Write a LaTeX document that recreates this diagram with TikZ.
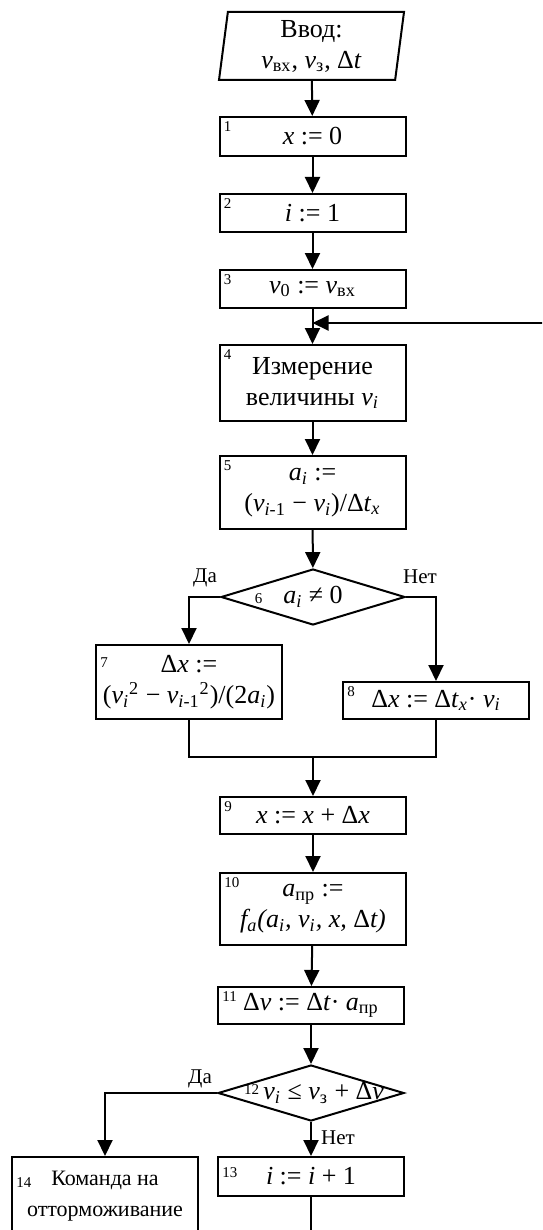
\documentclass[tikz,border=0pt]{standalone}
\usepackage{fontspec}
\setmainfont{Liberation Serif}
\usetikzlibrary{shapes.geometric,arrows.meta}
\newcommand{\numsize}{\fontsize{7.5}{8}\selectfont}

\begin{document}
\begin{tikzpicture}[x=0.5pt, y=-0.5pt,
	every node/.style={font=\fontsize{13}{15.5}\selectfont},
	block/.style={rectangle, draw, line width=1pt, minimum width=93pt, minimum height=19pt, inner sep=1pt, align=center},
	io/.style={trapezium, trapezium left angle=81, trapezium right angle=99, trapezium stretches body, draw, line width=1pt, minimum width=92.5pt, minimum height=34pt, inner sep=1pt, align=center},
	decision/.style={diamond, draw, line width=1pt, minimum width=92pt, minimum height=28pt, inner sep=0pt},
	num/.style={font=\numsize, anchor=north west, inner sep=2.5pt},
	answer/.style={font=\fontsize{10.5}{12}\selectfont},
	flow/.style={line width=1pt, -{Triangle[length=8pt, width=7.5pt]}},
	link/.style={line width=1pt}
	]
	
	\useasboundingbox (0,0) rectangle (542,1230);
	\clip (0,0) rectangle (542,1230);
	
	\node[io] (in) at (311.5,46) {Ввод:\\\textit{v}\textsubscript{вх}, \textit{v}\textsubscript{з}, Δ\textit{t}};
	\node[block, minimum height=19.5pt, label={[num]north west:1}] (b1) at (312.5,136.5) {\textit{x} := 0};
	\node[block, label={[num]north west:2}] (b2) at (312.5,213) {\textit{i} := 1};
	\node[block, label={[num]north west:3}] (b3) at (312.5,289) {\textit{v}\textsubscript{0} := \textit{v}\textsubscript{вх}};
	\node[block, minimum height=38pt, label={[num]north west:4}] (b4) at (312.5,383) {Измерение\\величины \textit{v}\textsubscript{\textit{i}}};
	\node[block, minimum height=36.5pt, label={[num]north west:5}] (b5) at (312.5,492.5) {\textit{a}\textsubscript{\textit{i}} :=\\(\textit{v}\textsubscript{\textit{i}-1} − \textit{v}\textsubscript{\textit{i}})/Δ\textit{t}\textsubscript{\textit{x}}};
	\node[decision, label={[anchor=center]center:{\makebox[0pt][r]{\numsize 6\hspace{10.5pt}}\textit{a}\textsubscript{\textit{i}} ≠ 0}}] (d6) at (313,597) {};
	\node[block, minimum height=37pt, label={[num, yshift=-4pt]north west:7}] (b7) at (189,682) {Δ\textit{x} :=\\(\textit{v}\textsubscript{\textit{i}}\textsuperscript{2} − \textit{v}\textsubscript{\textit{i}-1}\textsuperscript{2})/(2\textit{a}\textsubscript{\textit{i}})};
	\node[block, minimum height=18.5pt, label={[num]north west:8}] (b8) at (436,700.5) {Δ\textit{x} := Δ\textit{t}\textsubscript{\textit{x}}· \textit{v}\textsubscript{\textit{i}}};
	\node[block, minimum height=18.5pt, label={[num]north west:9}] (b9) at (313,815.5) {\textit{x} := \textit{x} + Δ\textit{x}};
	\node[block, minimum height=36pt, label={[num]north west:10}] (b10) at (313,909) {\textit{a}\textsubscript{пр} :=\\\textit{f\textsubscript{a}}\textit{(a\textsubscript{i}, v\textsubscript{i}, x, }Δ\textit{t)}};
	\node[block, minimum height=18.5pt, label={[num]north west:11}] (b11) at (311,1005.5) {Δ\textit{v} := Δ\textit{t}· \textit{a}\textsubscript{пр}};
	\node[decision, minimum width=93pt, label={[anchor=center, xshift=1.5pt]center:{\raisebox{2.5pt}{\numsize 12}\,\textit{v}\textsubscript{\textit{i}} ≤ \textit{v}\textsubscript{з} + Δ\textit{v}}}] (d12) at (311,1093) {};
	\node[block, minimum height=19.5pt, label={[num, yshift=-3pt]north west:13}] (b13) at (311,1176.5) {\textit{i} := \textit{i} + 1};
	\node[block, minimum height=39pt, font=\fontsize{11}{15.5}\selectfont, label={[num, yshift=-8pt]north west:14}] (b14) at (105,1196) {Команда на\\отторможивание};
	
	\node[answer] (yes1) at (205,578) {Да};
	\node[answer] (no1) at (420,577) {Нет};
	\node[answer] (yes2) at (200,1079) {Да};
	\node[answer] (no2) at (338,1138) {Нет};
	
	\coordinate (m) at (313,757);
	\coordinate (back) at (560,323);
	\coordinate (join) at (312.5,323);
	
	\draw[flow] (in) -- (b1);
	\draw[flow] (b1) -- (b2);
	\draw[flow] (b2) -- (b3);
	\draw[flow] (b3) -- (b4);
	\draw[flow] (b4) -- (b5);
	\draw[flow] (b5) -- (d6);
	\draw[flow] (d6.west) -| (b7.north);
	\draw[flow] (d6.east) -| (b8.north);
	\draw[link] (b7.south) |- (m) -| (b8.south);
	\draw[flow] (m) -- (b9);
	\draw[flow] (b9) -- (b10);
	\draw[flow] (b10) -- (b11);
	\draw[flow] (b11) -- (d12);
	\draw[flow] (d12.west) -| (b14.north);
	\draw[flow] (d12) -- (b13);
	\draw[flow] (b13.south) -- ++(0,70) -| (back) -- (join);
	
\end{tikzpicture}
\end{document}
